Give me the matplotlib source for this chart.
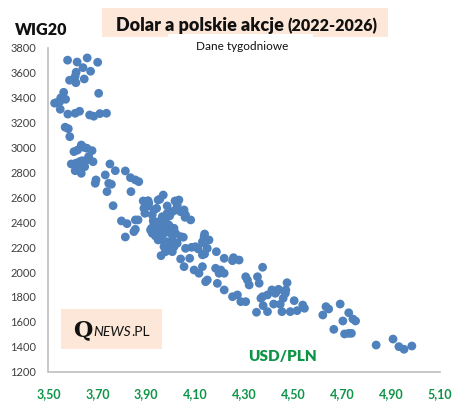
import matplotlib.pyplot as plt
from matplotlib.patches import Rectangle
from matplotlib.ticker import FuncFormatter

# weekly USD/PLN vs WIG20 values
usd = [3.578, 3.617, 3.658, 3.701, 3.641, 3.613, 3.672, 3.609, 3.586, 3.603,
       3.646, 3.612, 3.562, 3.705, 3.550, 3.570, 3.533, 3.546, 3.525, 3.548,
       3.579, 3.609, 3.627, 3.668, 3.685, 3.710, 3.737, 3.568, 3.581, 3.587,
       3.604, 3.619, 3.634, 3.644, 3.657, 3.678, 3.664, 3.682, 3.593, 3.612,
       3.627, 3.623, 3.609, 3.634, 3.637, 3.657, 3.648, 3.694, 3.691, 3.732,
       3.751, 3.746, 3.757, 3.739, 3.773, 3.814, 3.835, 3.855, 3.869, 3.837,
       3.764, 3.798, 3.821, 3.814, 3.849, 3.855, 3.855, 3.866, 3.887, 3.907,
       3.894, 3.907, 3.931, 3.942, 3.948, 3.969, 3.955, 3.928, 3.921, 3.917,
       3.931, 3.937, 3.948, 3.960, 3.962, 3.978, 3.985, 3.995, 4.006, 4.017,
       4.033, 4.040, 4.054, 4.058, 4.081, 4.051, 4.085, 4.101, 4.112, 4.138,
       4.133, 4.156, 4.149, 4.138, 4.186, 4.218, 4.256, 4.279, 4.252, 4.040,
       4.077, 4.375, 3.896, 3.910, 3.890, 3.924, 4.026, 4.019, 4.060, 3.985,
       3.965, 3.978, 3.951, 3.931, 3.944, 3.965, 3.992, 4.013, 3.924, 3.951,
       3.972, 3.999, 4.019, 4.040, 3.965, 3.985, 4.006, 4.026, 3.972, 3.992,
       4.013, 4.060, 4.129, 3.978, 4.006, 4.129, 3.988, 4.136, 4.054, 4.095,
       4.115, 4.129, 4.183, 4.204, 4.197, 4.218, 4.149, 4.142, 4.190, 4.218,
       4.252, 4.272, 4.286, 4.306, 4.306, 4.313, 4.320, 4.354, 4.361, 4.368,
       4.350, 4.395, 4.375, 4.377, 4.395, 4.413, 4.420, 4.427, 4.434, 4.440,
       4.447, 4.454, 4.459, 4.468, 4.470, 4.475, 4.488, 4.504, 4.516, 4.539,
       4.546, 4.621, 4.634, 4.645, 4.666, 4.692, 4.703, 4.710, 4.727, 4.727,
       4.738, 4.744, 4.755, 4.839, 4.908, 4.932, 4.953, 4.985]
wig = [3700, 3685, 3718, 3683, 3640, 3603, 3611, 3570, 3539, 3539,
       3549, 3519, 3442, 3434, 3397, 3386, 3359, 3367, 3355, 3306,
       3267, 3274, 3290, 3260, 3250, 3271, 3274, 3162, 3150, 3086,
       2966, 2979, 3019, 3001, 2993, 2974, 2926, 2885, 2867, 2873,
       2885, 2832, 2813, 2792, 2893, 2899, 2845, 2739, 2712, 2779,
       2867, 2712, 2704, 2645, 2813, 2811, 2757, 2739, 2725, 2645,
       2532, 2410, 2388, 2281, 2324, 2343, 2418, 2418, 2570, 2572,
       2471, 2530, 2498, 2511, 2578, 2618, 2584, 2412, 2351, 2337,
       2311, 2289, 2257, 2131, 2377, 2337, 2530, 2450, 2484, 2570,
       2578, 2484, 2498, 2439, 2418, 2279, 2198, 2203, 2185, 2305,
       2235, 2257, 2190, 2145, 2163, 2110, 2115, 2096, 2091, 2105,
       2110, 2038, 2564, 2552, 2511, 2458, 2538, 2498, 2458, 2471,
       2444, 2404, 2404, 2391, 2337, 2364, 2377, 2351, 2311, 2284,
       2311, 2311, 2311, 2284, 2257, 2243, 2257, 2231, 2203, 2190,
       2203, 2190, 2243, 2163, 2163, 2138, 2223, 2284, 2043, 2016,
       1990, 2043, 2030, 2016, 1990, 1990, 1936, 1922, 1909, 1856,
       1802, 1816, 1762, 1762, 1962, 1936, 1896, 1962, 1910, 1789,
       1677, 1682, 1802, 1730, 1816, 1856, 1743, 1829, 1848, 1861,
       1741, 1682, 1789, 1829, 1856, 1914, 1682, 1770, 1690, 1735,
       1709, 1655, 1722, 1703, 1540, 1743, 1607, 1503, 1673, 1508,
       1508, 1623, 1607, 1414, 1462, 1401, 1380, 1406]

x_ticks = [3.5, 3.7, 3.9, 4.1, 4.3, 4.5, 4.7, 4.9, 5.1]
y_ticks = [1200, 1400, 1600, 1800, 2000, 2200, 2400, 2600, 2800, 3000,
           3200, 3400, 3600, 3800]

blue = '#4F81BD'
green = '#0E9448'
peach = '#FCE7D8'

plt.rcParams['font.family'] = ['Lato', 'DejaVu Sans']

fig = plt.figure(figsize=(4.64, 4.04), dpi=100)
W, H = 464, 404
ax = fig.add_axes([48.5 / W, 1 - 371.7 / H, (440 - 48.5) / W, (371.7 - 47.7) / H])

ax.scatter(usd, wig, s=40, color=blue, edgecolors='none', zorder=3)

ax.set_xlim(3.5, 5.1)
ax.set_ylim(1200, 3800)
ax.set_xticks(x_ticks)
ax.set_yticks(y_ticks)
ax.xaxis.set_major_formatter(FuncFormatter(lambda v, p: f'{v:.2f}'.replace('.', ',')))
ax.tick_params(length=0)
ax.tick_params(axis='y', labelsize=8, pad=9, colors='#404040')
ax.tick_params(axis='x', labelsize=9, pad=12, labelcolor=green)
for lab in ax.get_xticklabels():
    lab.set_fontweight('bold')
for side in ['top', 'right']:
    ax.spines[side].set_visible(False)
for side in ['left', 'bottom']:
    ax.spines[side].set_color('#BFBFBF')
    ax.spines[side].set_linewidth(1.2)

# title box with white notch for the subtitle
fig.patches.append(Rectangle((102 / W, 1 - 36.7 / H), 286 / W, 28.7 / H,
                             transform=fig.transFigure, facecolor=peach,
                             edgecolor='none', zorder=0))
fig.patches.append(Rectangle((168 / W, 1 - 38 / H), 145 / W, 4 / H,
                             transform=fig.transFigure, facecolor='white',
                             edgecolor='none', zorder=1))
t1 = fig.text(116 / W, 1 - 31 / H, 'Dolar a polskie akcje', fontsize=13,
              fontweight='heavy', color='#111111', va='baseline', ha='left')
fig.canvas.draw()
bb = t1.get_window_extent()
fig.text((bb.x1 + 4) / W, 1 - 31 / H, '(2022-2026)', fontsize=11.5,
         fontweight='heavy', color='#111111', va='baseline', ha='left')
fig.text(242 / W, 1 - 47 / H, 'Dane tygodniowe', fontsize=8.5, color='#111111',
         ha='center', va='center')

fig.text(15 / W, 1 - 30 / H, 'WIG20', fontsize=11.5, fontweight='heavy',
         color='#111111', ha='left', va='center')
fig.text(283 / W, 1 - 357 / H, 'USD/PLN', fontsize=11, fontweight='heavy',
         color=green, ha='center', va='center')

# QNEWS.PL logo
fig.patches.append(Rectangle((61 / W, 1 - 349.3 / H), 100.7 / W, 40 / H,
                             transform=fig.transFigure, facecolor=peach,
                             edgecolor='none', zorder=0))
q = fig.text(73 / W, 1 - 336 / H, 'Q', fontsize=16, fontweight='bold',
             family='DejaVu Serif', color='#111111', va='baseline', ha='left')
fig.canvas.draw()
qb = q.get_window_extent()
n = fig.text((qb.x1 + 0.5) / W, 1 - 336 / H, 'NEWS', fontsize=10, style='italic',
             color='#111111', va='baseline', ha='left')
fig.canvas.draw()
nb = n.get_window_extent()
fig.text((nb.x1 + 0.5) / W, 1 - 336 / H, '.PL', fontsize=10,
         color='#111111', va='baseline', ha='left')

plt.savefig('out.png', dpi=100)
